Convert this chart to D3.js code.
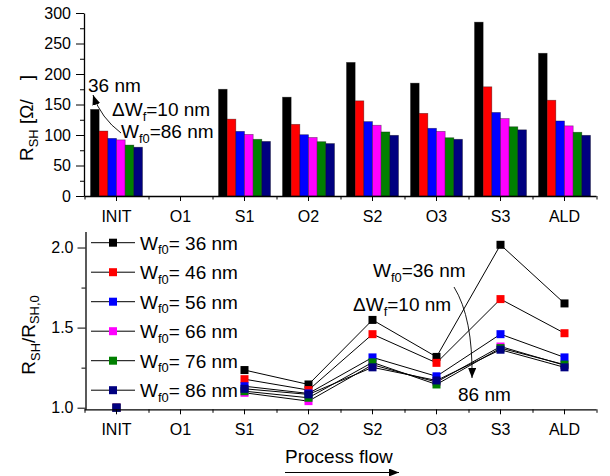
<!DOCTYPE html>
<html lang="en">
<head>
<meta charset="UTF-8">
<title>Sheet resistance along the process flow</title>
<style>
  body { margin: 0; background: #fff; }
  svg text { font-family: Arial, "Liberation Sans", sans-serif; fill: #000; }
</style>
</head>
<body>
<svg id="chart" width="610" height="476"></svg>
<script src="https://d3js.org/d3.v7.min.js"></script>
<script>
// process steps and fin widths
const steps = ["INIT", "O1", "S1", "O2", "S2", "O3", "S3", "ALD"];
const finWidths = [36, 46, 56, 66, 76, 86];
const colors = ["#000000", "#ff0000", "#0000ff", "#ff00ff", "#008000", "#000080"];

// sheet resistance R_SH (ohm/sq), one array per fin width, null = no data
const rsh36 = [142, null, 175, 162, 219, 185, 285, 234];
const rsh46 = [106.5, null, 126, 117.5, 156, 135.5, 179, 157];
const rsh56 = [94.5, null, 106, 100.5, 122, 111, 137, 123];
const rsh66 = [92, null, 101, 96, 116, 106, 127, 115];
const rsh76 = [83.5, null, 93, 89, 105, 95.5, 113.5, 104.5];
const rsh86 = [80, null, 89.5, 86, 99.5, 93, 108.5, 99.5];

// normalised R_SH / R_SH,0
const ratio36 = [1.0, null, 1.235, 1.145, 1.548, 1.317, 2.017, 1.651];
const ratio46 = [1.0, null, 1.178, 1.11, 1.459, 1.28, 1.678, 1.465];
const ratio56 = [1.0, null, 1.134, 1.089, 1.314, 1.196, 1.459, 1.314];
const ratio66 = [1.0, null, 1.093, 1.041, 1.268, 1.16, 1.382, 1.265];
const ratio76 = [1.0, null, 1.103, 1.062, 1.283, 1.145, 1.372, 1.269];
const ratio86 = [1.0, null, 1.118, 1.083, 1.252, 1.17, 1.362, 1.252];

const rshTicks = [0, 50, 100, 150, 200, 250, 300];
const ratioTicks = [1.0, 1.5, 2.0];

const rshSeries = [rsh36, rsh46, rsh56, rsh66, rsh76, rsh86];
const ratioSeries = [ratio36, ratio46, ratio56, ratio66, ratio76, ratio86];

const svg = d3.select("#chart");

// arrow heads
const defs = svg.append("defs");
defs.append("marker")
    .attr("id", "head")
    .attr("viewBox", "0 0 10 8")
    .attr("refX", 10).attr("refY", 4)
    .attr("markerWidth", 10).attr("markerHeight", 8)
    .attr("markerUnits", "userSpaceOnUse")
    .attr("orient", "auto")
  .append("path")
    .attr("d", "M0,0L10,4L0,8Z")
    .attr("fill", "#000");

const x = d3.scaleBand().domain(steps).range([84.5, 596.5]);
const xEdge = d3.scaleLinear().domain([0, steps.length]).range([84.5, 596.5]);

function xAxes(g, y0, labelPad) {
    g.append("g")
        .attr("transform", `translate(0,${y0})`)
        .call(d3.axisBottom(xEdge).tickValues(d3.range(steps.length + 1)).tickSize(3.5).tickFormat(""))
        .call(a => a.select(".domain").remove());
    const ax = g.append("g")
        .attr("transform", `translate(0,${y0})`)
        .call(d3.axisBottom(x).tickSize(5).tickSizeOuter(0).tickPadding(labelPad));
    ax.select(".domain").attr("d", `M${xEdge(0)},0.5H${xEdge(steps.length)}`).attr("stroke-width", 1.3);
    ax.selectAll("text").attr("font-size", 16).attr("font-family", null);
}

function subText(sel, parts) {
    // parts: [text, isSub]
    parts.forEach(([t, sub], i) => {
        const prev = i > 0 && parts[i - 1][1];
        const ts = sel.append("tspan").text(t);
        if (sub) ts.attr("font-size", "0.68em").attr("dy", prev ? 0 : "0.35em");
        else if (prev) ts.attr("dy", "-0.24em");
    });
}

// ---------- upper panel: R_SH bars ----------
const yTop = d3.scaleLinear().domain([0, 300]).range([196, 13]);
const inner = d3.scaleBand().domain(d3.range(finWidths.length)).range([6, 58]);
const gTop = svg.append("g");

rshSeries.forEach((vals, s) => {
    gTop.append("g").selectAll("rect")
        .data(steps.map((st, i) => ({ st, v: vals[i] })).filter(d => d.v != null))
        .join("rect")
        .attr("x", d => x(d.st) + inner(s))
        .attr("y", d => yTop(d.v))
        .attr("width", inner.bandwidth())
        .attr("height", d => yTop(0) - yTop(d.v))
        .attr("fill", colors[s])
        .attr("stroke", "#000")
        .attr("stroke-opacity", 0.45)
        .attr("stroke-width", 0.7);
});

gTop.append("g")
    .attr("transform", "translate(84,0)")
    .call(d3.axisLeft(yTop).tickValues(d3.range(25, 300, 50)).tickSize(4).tickFormat(""))
    .call(a => a.select(".domain").remove());
const yAxTop = gTop.append("g")
    .attr("transform", "translate(84,0)")
    .call(d3.axisLeft(yTop).tickValues(rshTicks).tickSize(8).tickSizeOuter(0).tickPadding(5));
yAxTop.select(".domain").attr("stroke-width", 1.3);
yAxTop.selectAll("text").attr("font-size", 16).attr("font-family", null);
xAxes(gTop, 196, 10);

const ylab1 = gTop.append("text")
    .attr("transform", "translate(33,118) rotate(-90)")
    .attr("text-anchor", "middle")
    .attr("font-size", 19);
subText(ylab1, [["R", false], ["SH", true], [" [\u03a9/\u2002\u2002]", false]]);

// annotations
gTop.append("text").attr("x", 88).attr("y", 92).attr("font-size", 19).text("36 nm");
subText(gTop.append("text").attr("x", 112).attr("y", 116).attr("font-size", 19),
    [["\u0394W", false], ["f", true], ["=10 nm", false]]);
subText(gTop.append("text").attr("x", 121).attr("y", 138).attr("font-size", 19),
    [["W", false], ["f0", true], ["=86 nm", false]]);
gTop.append("path")
    .attr("d", "M121,133Q101,118 93,95")
    .attr("fill", "none").attr("stroke", "#000").attr("stroke-width", 0.9)
    .attr("marker-end", "url(#head)");

// ---------- lower panel: normalised R_SH ----------
const yBot = d3.scaleLinear().domain([0.99, 2.1]).range([409.3, 231.5]);
const gBot = svg.append("g");

const line = d3.line()
    .defined(d => d.v != null)
    .x(d => x(d.st) + x.bandwidth() / 2)
    .y(d => yBot(d.v));

ratioSeries.forEach((vals, s) => {
    const pts = steps.map((st, i) => ({ st, v: vals[i] }));
    gBot.append("path")
        .datum(pts)
        .attr("d", line)
        .attr("fill", "none")
        .attr("stroke", "#000")
        .attr("stroke-width", 1);
    gBot.append("g").selectAll("rect")
        .data(pts.filter(d => d.v != null))
        .join("rect")
        .attr("x", d => x(d.st) + x.bandwidth() / 2 - 4)
        .attr("y", d => yBot(d.v) - 4)
        .attr("width", 8).attr("height", 8)
        .attr("fill", colors[s]);
});

gBot.append("g")
    .attr("transform", "translate(85.5,0)")
    .call(d3.axisLeft(yBot).tickValues([1.25, 1.75]).tickSize(4).tickFormat(""))
    .call(a => a.select(".domain").remove());
const yAxBot = gBot.append("g")
    .attr("transform", "translate(85.5,0)")
    .call(d3.axisLeft(yBot).tickValues(ratioTicks).tickSize(8).tickSizeOuter(0).tickPadding(4).tickFormat(d3.format(".1f")));
yAxBot.select(".domain").attr("stroke-width", 1.3);
yAxBot.selectAll("text").attr("font-size", 16).attr("font-family", null);
xAxes(gBot, 409.3, 9);

const ylab2 = gBot.append("text")
    .attr("transform", "translate(35,335) rotate(-90)")
    .attr("text-anchor", "middle")
    .attr("font-size", 19);
subText(ylab2, [["R", false], ["SH", true], ["/R", false], ["SH,0", true]]);

// legend
const legend = gBot.append("g").selectAll("g")
    .data(finWidths)
    .join("g")
    .attr("transform", (d, i) => `translate(0,${242.7 + i * 29.5})`);
legend.append("line")
    .attr("x1", 91).attr("x2", 135)
    .attr("stroke", "#000").attr("stroke-width", 1);
legend.append("rect")
    .attr("x", 109).attr("y", -4).attr("width", 8).attr("height", 8)
    .attr("fill", (d, i) => colors[i]);
legend.append("text")
    .attr("x", 140).attr("y", 7).attr("font-size", 19)
    .each(function(d) {
        subText(d3.select(this), [["W", false], ["f0", true], [`= ${d} nm`, false]]);
    });

// annotations
subText(gBot.append("text").attr("x", 373).attr("y", 277).attr("font-size", 19),
    [["W", false], ["f0", true], ["=36 nm", false]]);
subText(gBot.append("text").attr("x", 353).attr("y", 311).attr("font-size", 19),
    [["\u0394W", false], ["f", true], ["=10 nm", false]]);
gBot.append("text").attr("x", 458).attr("y", 401).attr("font-size", 19).text("86 nm");
gBot.append("path")
    .attr("d", "M454,287Q473,318 472,378")
    .attr("fill", "none").attr("stroke", "#000").attr("stroke-width", 0.9)
    .attr("marker-end", "url(#head)");

// process flow arrow
gBot.append("text").attr("x", 285).attr("y", 463).attr("font-size", 19).text("Process flow");
gBot.append("line")
    .attr("x1", 285).attr("x2", 399).attr("y1", 472.5).attr("y2", 472.5)
    .attr("stroke", "#000").attr("stroke-width", 1.2)
    .attr("marker-end", "url(#head)");
</script>
</body>
</html>
